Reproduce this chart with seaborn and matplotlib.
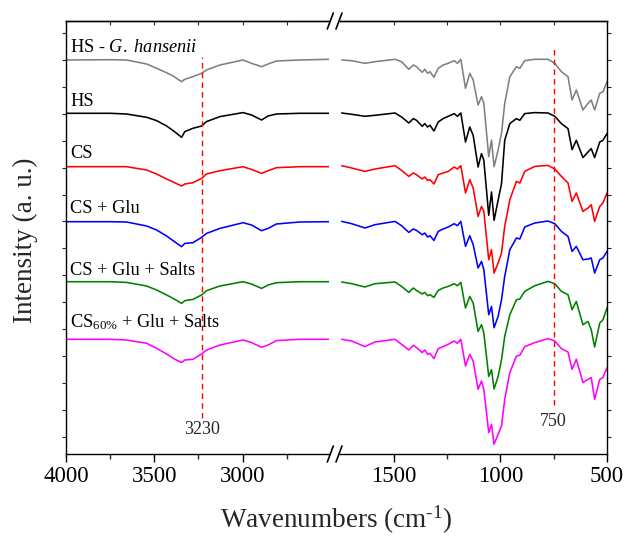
import numpy as np
import pandas as pd
import matplotlib
matplotlib.use("Agg")
import matplotlib.pyplot as plt
from matplotlib.lines import Line2D
import seaborn as sns

# ---- spectra: sample names, colours and vertical stacking offsets (a.u.) ----
samples = ["HS - G. hansenii", "HS", "CS", "CS + Glu", "CS + Glu + Salts", "CS60% + Glu + Salts"]
labels = [r"HS - $\mathit{G.\ hansenii}$", "HS", "CS", "CS + Glu", "CS + Glu + Salts",
          r"CS$_{\mathrm{60\%}}$ + Glu + Salts"]
colors = ["#808080", "#000000", "#ff0000", "#0000ff", "#008000", "#ff00ff"]
offsets = [394.0, 340.7, 287.3, 232.3, 172.3, 114.7]
label_y = [402, 348, 296, 241, 179, 127]

# ---- high-wavenumber region (cm-1) and band depth of each sample ----
wn_high = [4000, 3750, 3657, 3543, 3487, 3430, 3393, 3345, 3327, 3281, 3232, 3204,
           3128, 2997, 2949, 2892, 2855, 2808, 2676, 2510]
depth_high_gh = [0, -0.3, 0, 4, 8.3, 12.7, 16, 21.7, 19.3, 16.7, 13.3, 10, 5, 0, 3.3, 6.7, 4, 1, 0, -0.7]
depth_high_hs = [0, 0, 0.7, 4, 7.3, 12.7, 17.3, 24, 18.3, 15, 12.7, 8.3, 3.3, -0.7, 1.7, 6.7, 2.7, 0.7, 0, 0]
depth_high_cs = [0, 0, 0, 3.3, 7.3, 12.3, 15.3, 19.3, 17.3, 16, 11.7, 7.3, 4, 0, 2.7, 6.7, 4, 1, 0, 0]
depth_high_csg = [0, 0, 0.3, 4.3, 8.3, 14.3, 19, 25, 21.7, 21, 15.7, 11.7, 6.7, 1, 3.3, 9, 6.7, 2.3, 0.3, 0]
depth_high_csgs = [0, 0, 0.7, 4.3, 8.3, 13.3, 16.7, 21.7, 19, 17.7, 13.3, 9, 4.3, 0, 2.3, 6.7, 3.3, 1, 0, 0]
depth_high_cs60 = [0, 0, 0.7, 4, 9, 14.7, 19, 23.3, 20.7, 20, 14.7, 10.7, 5.7, 0.7, 3.3, 8, 5.7, 1.3, 0, 0]

# ---- fingerprint region (cm-1) and band depth of each sample ----
wn_low = [1745, 1698, 1636, 1589, 1495, 1464, 1430, 1409, 1394, 1367, 1355, 1342, 1331,
          1312, 1292, 1269, 1245, 1217, 1202, 1186, 1164, 1144, 1128, 1105, 1089, 1078,
          1055, 1042, 1030, 1011, 995, 980, 956, 925, 909, 886, 839, 777, 745, 714, 683,
          664, 644, 613, 589, 574, 558, 534, 519, 500]
depth_low_gh = [0, 0.7, 3.3, 1.7, -0.7, 1.7, 9.3, 5, 6.7, 12.3, 9.3, 13.3, 11.7, 17.3, 8.3,
                5, 3.3, 0.7, 3.3, -0.7, 28.3, 13.3, 20, 45, 36.7, 43.3, 96.7, 80, 106.7, 90,
                73.3, 43.3, 16.7, 6.7, 8.3, 0.7, -0.7, -0.7, 3.3, 11.7, 16.7, 40, 30, 50,
                43.3, 40, 50, 33.3, 31.7, 21.7]
depth_low_hs = [-0.3, 1, 3, 2, -0.3, 3.7, 9.7, 5.3, 7, 13, 10.3, 13.7, 12, 17.7, 8.7, 5.3,
                3, 0.3, 3, -0.3, 28.7, 13.7, 22, 53.7, 40.3, 47, 102, 78.7, 107, 87, 70.3,
                27, 10.3, 5.3, 7, 0.3, -0.7, -0.3, 3, 10.3, 15.3, 36.3, 27, 44.3, 38.7,
                35.3, 44.3, 28.7, 27, 20.3]
depth_low_cs = [-1, 1.3, 4.7, 2.3, -1, 3.7, 9.7, 6.3, 8, 12.3, 10.3, 13.7, 13, 17.3, 8,
                6.3, 4.7, 0.3, 2.3, -1, 26.3, 13, 21.3, 49.7, 39.7, 44.7, 93, 83, 106.3,
                96.3, 86.3, 59.7, 33, 14.7, 16.3, 4.7, -0.3, -1.3, 2.3, 9.7, 16.3, 34.7,
                26.3, 44.7, 41.3, 38, 54.7, 39.7, 36.3, 26.3]
depth_low_csg = [-0.3, 2, 6.3, 3, -0.3, 4, 10.7, 7.3, 8.7, 13, 11.3, 15.3, 14, 18.7, 9.7,
                 7.3, 5.3, 2, 4, -0.3, 24.7, 14, 23, 46.3, 39.7, 48, 93, 84.7, 106, 94.7,
                 78, 54.7, 28, 16.3, 17.3, 5.3, 1.3, -0.7, 2, 9.7, 14.7, 29.7, 24.7, 38,
                 37.3, 36.3, 51.3, 38, 36.3, 29.7]
depth_low_csgs = [0.3, 2, 5.3, 2, 0.3, 4.7, 10.7, 6.3, 8.7, 12.3, 10.7, 14, 13, 15.7, 8.7,
                  6.3, 4.7, 2, 4, 0.7, 26.3, 14.7, 21.3, 49.7, 43, 51.3, 94.7, 88, 107.3,
                  94.7, 78, 54.7, 33, 18, 17.3, 9.7, 4, -0.3, 2, 9.7, 13, 28, 19.7, 43,
                  39.7, 48, 65.3, 41.3, 38, 26.3]
depth_low_cs60 = [0, 1.7, 7.3, 2.7, 0, 5, 10.7, 6, 8.3, 13.3, 10.7, 15, 14, 19.3, 9.3, 7.3,
                  5, 1.7, 4, 0, 26.7, 15, 21.7, 50, 41.7, 50, 93.3, 85, 105, 95, 86.7, 60,
                  33.3, 16.7, 16, 7.3, 3.3, -0.7, 1.7, 9.3, 12.7, 30, 20, 43.3, 40, 38.3,
                  60, 40, 38.3, 28.3]

depth_high = [depth_high_gh, depth_high_hs, depth_high_cs, depth_high_csg, depth_high_csgs, depth_high_cs60]
depth_low = [depth_low_gh, depth_low_hs, depth_low_cs, depth_low_csg, depth_low_csgs, depth_low_cs60]

marked_bands = [3230, 750]


def long_table(wn, depths):
    frames = []
    for name, off, d in zip(samples, offsets, depths):
        frames.append(pd.DataFrame({"wavenumber": wn,
                                    "intensity": off - np.asarray(d, dtype=float),
                                    "sample": name}))
    return pd.concat(frames, ignore_index=True)


df_high = long_table(wn_high, depth_high)
df_low = long_table(wn_low, depth_low)
palette = dict(zip(samples, colors))

sns.set_theme(style="ticks")
plt.rcParams["font.family"] = ["Liberation Serif", "DejaVu Serif"]
plt.rcParams["mathtext.fontset"] = "custom"
plt.rcParams["mathtext.rm"] = "Liberation Serif"
plt.rcParams["mathtext.it"] = "Liberation Serif:italic"

W, H = 627, 537
fig = plt.figure(figsize=(W / 100, H / 100), dpi=100)
bottom = (H - 454) / H
height = 433 / H
ax_l = fig.add_axes([66 / W, bottom, (329 - 66) / W, height])
ax_r = fig.add_axes([340 / W, bottom, (607 - 340) / W, height])

panels = ((ax_l, df_high, (4000, 2510), [4000, 3500, 3000], [3750, 3250, 2750]),
          (ax_r, df_low, (1753, 500), [1500, 1000, 500], [1250, 750]))

for ax, df, xlim, major, minor in panels:
    sns.lineplot(data=df, x="wavenumber", y="intensity", hue="sample", palette=palette,
                 hue_order=samples, estimator=None, linewidth=1.15, legend=False, ax=ax)
    ax.set_xlim(*xlim)
    ax.set_ylim(0, 433)
    ax.set_xticks(major)
    ax.set_xticks(minor, minor=True)
    ax.set_xlabel("")
    ax.set_ylabel("")
    ax.set_yticks(np.arange(17.3, 433, 26.9))
    ax.set_yticklabels([])
    for s in ax.spines.values():
        s.set_linewidth(1.0)
        s.set_color("black")
    ax.tick_params(axis="x", which="major", direction="out", length=6, width=1.0,
                   labelsize=16.5, pad=3, colors="black", top=False)
    ax.tick_params(axis="x", which="minor", direction="out", length=3.5, width=1.0, top=False)
    ax.tick_params(axis="y", which="major", length=3, width=0.8, direction="out")
    # short inward ticks along the top frame
    top = ax.secondary_xaxis("top")
    top.set_xticks(major)
    top.set_xticks(minor, minor=True)
    top.set_xticklabels([])
    top.tick_params(which="both", direction="in", length=3, width=0.8)
    top.spines["top"].set_linewidth(1.0)

ax_l.spines["right"].set_visible(False)
ax_l.tick_params(axis="y", left=True, right=False)
ax_r.spines["left"].set_visible(False)
ax_r.tick_params(axis="y", left=False, right=True, labelleft=False)

# sample names
for lab, y in zip(labels, label_y):
    ax_l.text(3977, y, lab, fontsize=13.2, color="black", ha="left", va="baseline")

# marked bands
ax_l.vlines(marked_bands[0], 36, 397, colors="#ff0000", linestyles=(0, (4, 3)), linewidth=1.0)
ax_l.text(marked_bands[0], 25, str(marked_bands[0]), fontsize=13, ha="center", va="center")
ax_r.vlines(marked_bands[1], 49, 407, colors="#ff0000", linestyles=(0, (4, 3)), linewidth=1.0)
ax_r.text(marked_bands[1], 33, str(marked_bands[1]), fontsize=13, ha="center", va="center")

# axis break marks
for yc in (21, 454):
    for x0 in (327.3, 336.0):
        fig.add_artist(Line2D([x0 / W, (x0 + 6) / W],
                              [(H - (yc + 8)) / H, (H - (yc - 8)) / H],
                              transform=fig.transFigure, color="black", linewidth=1.2))

fig.text(25 / W, 1 - 240 / H, "Intensity (a. u.)", rotation=90, fontsize=19.5,
         ha="center", va="center")
fig.text(336 / W, 1 - 520 / H, r"Wavenumbers (cm$^{\text{-1}}$)", fontsize=19.5,
         ha="center", va="center")

fig.savefig("out.png", dpi=100)
